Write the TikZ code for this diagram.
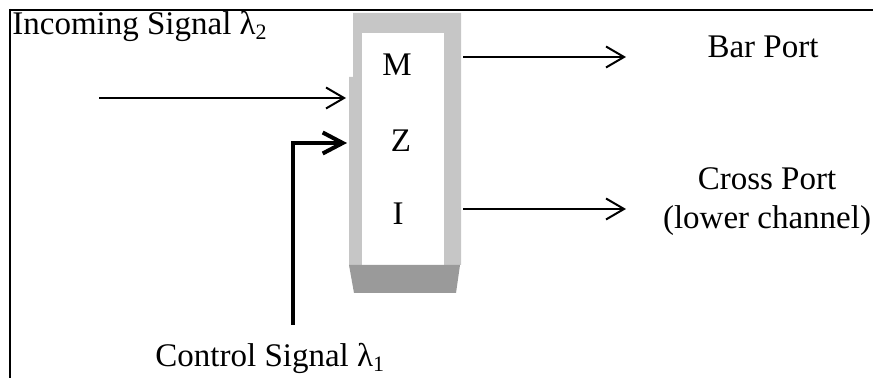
\documentclass[tikz,border=0pt]{standalone}
\usepackage{fontspec}
\setmainfont{Liberation Serif}
\usetikzlibrary{arrows.meta}
\definecolor{boxlight}{HTML}{C6C6C6}
\definecolor{boxdark}{HTML}{9A9A9A}
\newcommand\lsub[1]{\raisebox{-0.3ex}{\fontsize{11}{11}\selectfont #1}}
\tikzset{
  lbl/.style={inner sep=0pt, font=\fontsize{16.5}{20}\selectfont},
  thinarrow/.style={line width=1pt, -{Straight Barb[length=9pt,width=10.5pt,line width=1pt]}},
  thickarrow/.style={line width=2pt, -{Straight Barb[length=10pt,width=10.5pt,line width=2pt]}},
  frameline/.style={line width=1.3pt}
}
\begin{document}
\begin{tikzpicture}[x=0.5pt,y=-0.5pt]
\useasboundingbox (0,0) rectangle (873,378);
% frame
\draw[frameline] (9,10) -- (873,10);
\draw[frameline] (10,9) -- (10,378);
% MZI body
\fill[boxlight] (353,13) -- (461,13) -- (461,265) -- (349,265) -- (349,77) -- (353,77) -- cycle;
\fill[white] (362,33) rectangle (444,265);
\fill[boxdark] (349,265) -- (460,265) -- (456,293) -- (354,293) -- cycle;
\node[lbl, anchor=base] (m) at (397,76) {M};
\node[lbl, anchor=base] (z) at (401,152) {Z};
\node[lbl, anchor=base] (i) at (398,225) {I};
% labels
\node[lbl, anchor=base west] (incoming) at (12,35) {Incoming Signal λ\lsub{2}};
\node[lbl, anchor=base] (bar) at (763,58) {Bar Port};
\node[lbl, anchor=base] (cross) at (767,190) {Cross Port};
\node[lbl, anchor=base] (lower) at (767,229) {(lower channel)};
\node[lbl, anchor=base west] (control) at (155,367) {Control Signal λ\lsub{1}};
% connector end points
\coordinate (inS) at (99,98);
\coordinate (inE) at (346,98);
\coordinate (ctlS) at (293,325);
\coordinate (ctlC) at (293,143);
\coordinate (ctlE) at (347,143);
\coordinate (barS) at (463,57);
\coordinate (barE) at (626,57);
\coordinate (crsS) at (463,209);
\coordinate (crsE) at (626,209);
% connectors
\draw[thinarrow] (inS) -- (inE);
\draw[thickarrow] (ctlS) -- (ctlC) -- (ctlE);
\draw[thinarrow] (barS) -- (barE);
\draw[thinarrow] (crsS) -- (crsE);
\end{tikzpicture}
\end{document}
